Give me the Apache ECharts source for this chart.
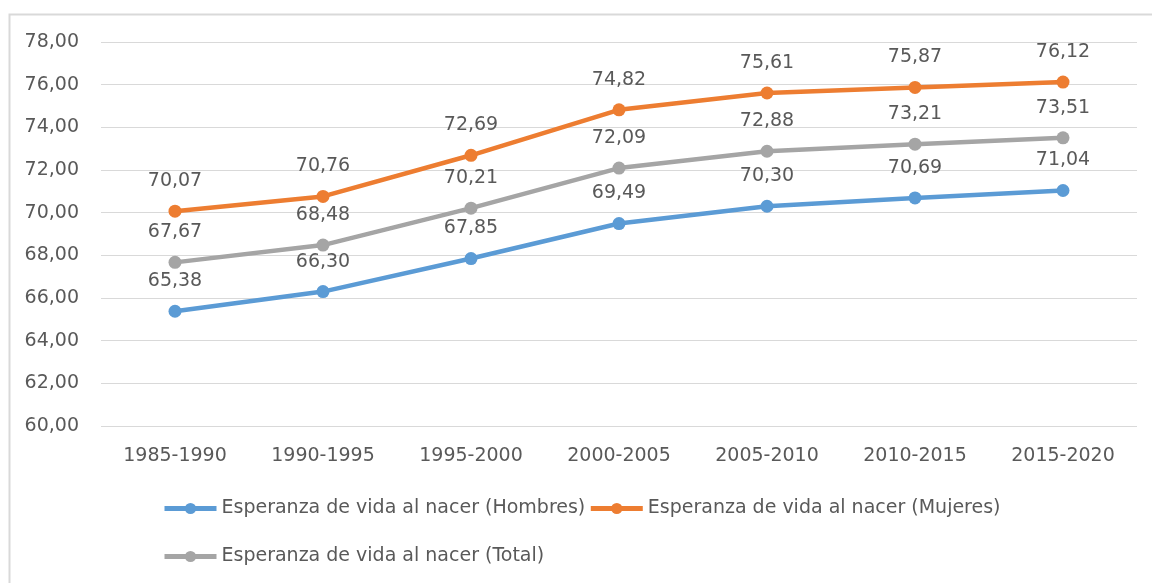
<!DOCTYPE html>
<html>
<head>
<meta charset="utf-8">
<script src="https://cdn.jsdelivr.net/npm/echarts@6/dist/echarts.min.js"></script>
<style>
  html, body { margin: 0; padding: 0; background: #fff; }
  #main { width: 1152px; height: 583px; }
</style>
</head>
<body>
<div id="main"></div>
<script>
const periods = ["1985-1990", "1990-1995", "1995-2000", "2000-2005", "2005-2010", "2010-2015", "2015-2020"];
const hombres = [65.38, 66.30, 67.85, 69.49, 70.30, 70.69, 71.04];
const mujeres = [70.07, 70.76, 72.69, 74.82, 75.61, 75.87, 76.12];
const total = [67.67, 68.48, 70.21, 72.09, 72.88, 73.21, 73.51];

const font = "DejaVu Sans";
const textColor = "#595959";

function comma(v) {
  return Number(v).toFixed(2).replace(".", ",");
}

function makeSeries(name, values, color) {
  return {
    name: name,
    type: "line",
    data: values,
    symbol: "circle",
    symbolSize: 13,
    lineStyle: { width: 4.5, color: color },
    itemStyle: { color: color },
    label: {
      show: true,
      position: "top",
      distance: 14,
      color: textColor,
      fontFamily: font,
      fontSize: 19,
      formatter: (p) => comma(p.value)
    }
  };
}

const options = {
  animation: false,
  textStyle: { fontFamily: font },
  graphic: [{
    type: "rect",
    left: 7,
    top: 12,
    shape: { width: 1200, height: 700 },
    style: { fill: "none", stroke: "#d9d9d9", lineWidth: 2 },
    silent: true
  }],
  grid: { left: 101, right: 15, top: 42, bottom: 157 },
  xAxis: {
    type: "category",
    data: periods,
    boundaryGap: true,
    axisLine: { show: false },
    axisTick: { show: false },
    axisLabel: { color: textColor, fontFamily: font, fontSize: 19, margin: 21 }
  },
  yAxis: {
    type: "value",
    min: 60,
    max: 78,
    interval: 2,
    axisLine: { show: false },
    axisTick: { show: false },
    splitLine: { lineStyle: { color: "#d9d9d9", width: 1 } },
    axisLabel: {
      color: textColor, fontFamily: font, fontSize: 19, margin: 22,
      formatter: (v) => comma(v)
    }
  },
  legend: {
    left: 162,
    top: 486,
    width: 900,
    padding: 0,
    itemWidth: 52,
    itemHeight: 14,
    itemGap: 3,
    lineStyle: { width: 5 },
    textStyle: { color: textColor, fontFamily: font, fontSize: 19, lineHeight: 45 }
  },
  series: [
    makeSeries("Esperanza de vida al nacer (Hombres)", hombres, "#5b9bd5"),
    makeSeries("Esperanza de vida al nacer (Mujeres)", mujeres, "#ed7d31"),
    makeSeries("Esperanza de vida al nacer (Total)", total, "#a5a5a5")
  ]
};

var myChart = echarts.init(document.querySelector("#main"));
myChart.setOption(options);
</script>
</body>
</html>
